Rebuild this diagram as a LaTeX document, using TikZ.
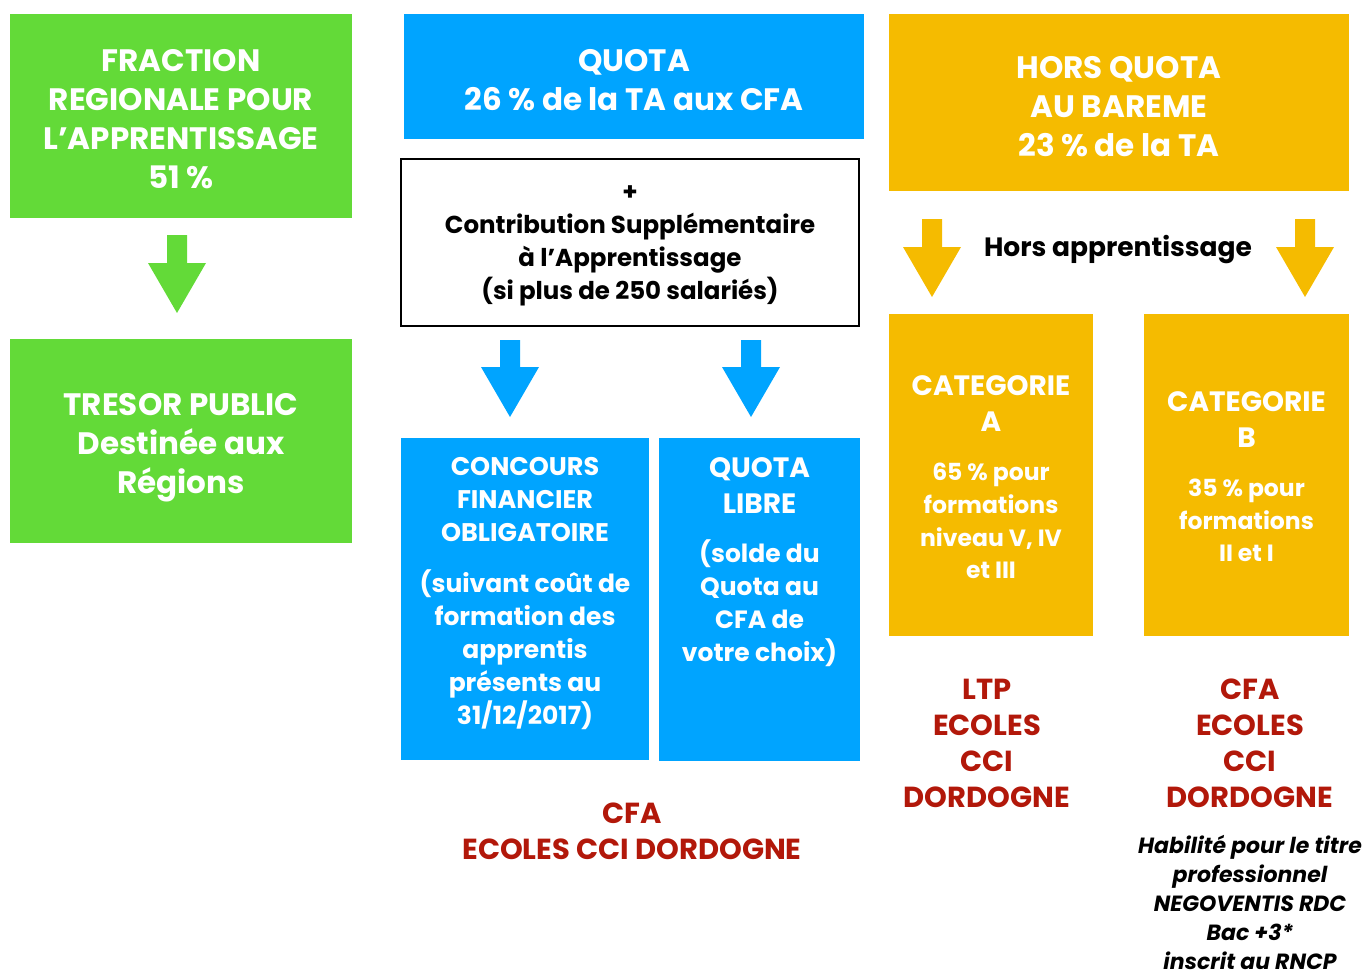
\documentclass[tikz,border=0pt]{standalone}
\usepackage{fontspec}
\setmainfont{Poppins}
\definecolor{cgreen}{RGB}{99,218,56}
\definecolor{cblue}{RGB}{0,164,255}
\definecolor{corange}{RGB}{245,187,0}
\definecolor{cred}{RGB}{178,24,10}
\newcommand\blockdown[4]{%
  \fill[#4] (#1-10,#2) -- (#1+10,#2) -- (#1+10,#3-50) -- (#1+29,#3-50) -- (#1,#3)
    -- (#1-29,#3-50) -- (#1-10,#3-50) -- cycle;}
\begin{document}
\begin{tikzpicture}[x=1pt,y=-1pt,
  rbox/.style={inner sep=0pt, outer sep=0pt, draw=none},
  wt/.style={text=white, align=center, inner sep=0pt},
  big/.style={font=\fontsize{31}{39}\selectfont\bfseries},
  redt/.style={text=cred, align=center, inner sep=0pt, font=\fontsize{29}{36}\selectfont\bfseries},
  blk/.style={text=black, align=center, inner sep=0pt}]
\useasboundingbox (0,0) rectangle (1365,971);
% boxes
\node[rbox, fill=cgreen, minimum width=342pt, minimum height=204pt] (frac) at (181,116) {};
\node[rbox, fill=cgreen, minimum width=342pt, minimum height=204pt] (tresor) at (181,441) {};
\node[rbox, fill=cblue, minimum width=460pt, minimum height=125pt] (quota) at (634,76.5) {};
\node[rbox, draw=black, line width=2.5pt, fill=white, minimum width=458pt, minimum height=167pt] (csa) at (630,242.5) {};
\node[rbox, fill=cblue, minimum width=248pt, minimum height=322pt] (cfo) at (525,599) {};
\node[rbox, fill=cblue, minimum width=201pt, minimum height=323pt] (libre) at (759.5,599.5) {};
\node[rbox, fill=corange, minimum width=460pt, minimum height=177pt] (hq) at (1119,102.5) {};
\node[rbox, fill=corange, minimum width=204pt, minimum height=322pt] (catA) at (991,475) {};
\node[rbox, fill=corange, minimum width=205pt, minimum height=322pt] (catB) at (1246.5,475) {};
% arrows
\blockdown{177}{235}{313}{cgreen}
\blockdown{510}{340}{417}{cblue}
\blockdown{751}{340}{417}{cblue}
\blockdown{932}{219}{297}{corange}
\blockdown{1305}{219}{297}{corange}
% texts
\node[wt, big] (fracT) at (181,119.5) {FRACTION\\REGIONALE POUR\\L’APPRENTISSAGE\\51 \%};
\node[wt, big] (tresorT) at (181,447.5) {TRESOR PUBLIC\\Destinée aux\\Régions};
\node[wt, big] (quotaT) at (634,80) {QUOTA\\26 \% de la TA aux CFA};
\node[blk, font=\fontsize{24.5}{33}\selectfont\bfseries] (csaT) at (630,245.5) {+\\Contribution Supplémentaire\\à l’Apprentissage\\(si plus de 250 salariés)};
\node[wt, font=\fontsize{25.5}{33}\selectfont\bfseries] (cfoH) at (525,500) {CONCOURS\\FINANCIER\\OBLIGATOIRE};
\node[wt, font=\fontsize{25}{33}\selectfont\bfseries] (cfoB) at (525,650) {(suivant coût de\\formation des\\apprentis\\présents au\\31/12/2017)};
\node[wt, font=\fontsize{28}{36}\selectfont\bfseries] (libreH) at (759.5,486) {QUOTA\\LIBRE};
\node[wt, font=\fontsize{25}{33}\selectfont\bfseries] (libreB) at (759.5,603) {(solde du\\Quota au\\CFA de\\votre choix)};
\node[wt, big] (hqT) at (1119,106.5) {HORS QUOTA\\AU BAREME\\23 \% de la TA};
\node[blk, font=\fontsize{26.5}{30}\selectfont\bfseries] (horsT) at (1118,250) {Hors apprentissage};
\node[wt, font=\fontsize{28}{36}\selectfont\bfseries] (catAH) at (991,404) {CATEGORIE\\A};
\node[wt, font=\fontsize{23.5}{32.7}\selectfont\bfseries] (catAB) at (991,521) {65 \% pour\\formations\\niveau V, IV\\et III};
\node[wt, font=\fontsize{28}{36}\selectfont\bfseries] (catBH) at (1246.5,420) {CATEGORIE\\B};
\node[wt, font=\fontsize{23.5}{32.7}\selectfont\bfseries] (catBB) at (1246.5,520.5) {35 \% pour\\formations\\II et I};
\node[redt] (redQ) at (632,831) {CFA\\ECOLES CCI DORDOGNE};
\node[redt] (redA) at (987,743) {LTP\\ECOLES\\CCI\\DORDOGNE};
\node[redt] (redB) at (1250,743) {CFA\\ECOLES\\CCI\\DORDOGNE};
\node[blk, font=\fontsize{22}{29}\selectfont\bfseries\itshape, anchor=north] (habT) at (1250,835) {Habilité pour le titre\\professionnel\\NEGOVENTIS RDC\\Bac +3*\\inscrit au RNCP};
\end{tikzpicture}
\end{document}
